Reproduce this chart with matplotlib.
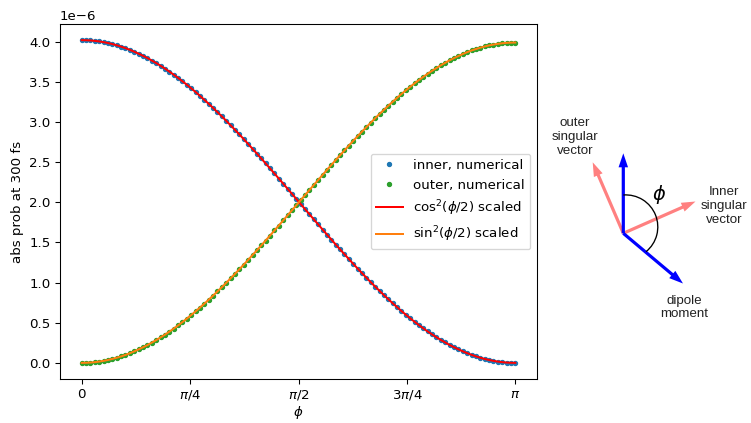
import numpy as np
import matplotlib
matplotlib.use("Agg")
import matplotlib.pyplot as plt
from matplotlib.patches import Arc

# sample angles (rad) and absorption probabilities (units of 1e-6)
phi = np.linspace(0, np.pi, 100)

inner_numerical = [
    4.020, 4.019, 4.016, 4.011, 4.004, 3.995, 3.984, 3.971, 3.956, 3.939,
    3.920, 3.899, 3.876, 3.851, 3.825, 3.797, 3.766, 3.735, 3.701, 3.666,
    3.629, 3.590, 3.550, 3.508, 3.465, 3.420, 3.374, 3.326, 3.277, 3.227,
    3.176, 3.123, 3.070, 3.015, 2.959, 2.903, 2.845, 2.787, 2.727, 2.667,
    2.607, 2.546, 2.484, 2.422, 2.359, 2.296, 2.233, 2.169, 2.106, 2.042,
    1.978, 1.914, 1.851, 1.787, 1.724, 1.661, 1.598, 1.536, 1.474, 1.413,
    1.353, 1.293, 1.233, 1.175, 1.117, 1.061, 1.005, 0.950, 0.897, 0.844,
    0.793, 0.743, 0.694, 0.646, 0.600, 0.555, 0.512, 0.470, 0.430, 0.391,
    0.354, 0.319, 0.285, 0.254, 0.223, 0.195, 0.169, 0.144, 0.121, 0.100,
    0.081, 0.064, 0.049, 0.036, 0.025, 0.016, 0.009, 0.004, 0.001, 0.000,
]

outer_numerical = [
    0.000, 0.001, 0.004, 0.009, 0.016, 0.025, 0.036, 0.049, 0.064, 0.080,
    0.099, 0.120, 0.143, 0.168, 0.194, 0.221, 0.252, 0.283, 0.317, 0.351,
    0.388, 0.427, 0.466, 0.508, 0.551, 0.596, 0.641, 0.689, 0.737, 0.787,
    0.838, 0.890, 0.943, 0.997, 1.053, 1.109, 1.166, 1.224, 1.283, 1.343,
    1.402, 1.463, 1.524, 1.586, 1.649, 1.711, 1.774, 1.837, 1.900, 1.963,
    2.027, 2.090, 2.153, 2.216, 2.279, 2.341, 2.404, 2.465, 2.527, 2.587,
    2.647, 2.707, 2.766, 2.824, 2.881, 2.937, 2.992, 3.047, 3.100, 3.152,
    3.203, 3.252, 3.301, 3.349, 3.394, 3.439, 3.482, 3.523, 3.563, 3.602,
    3.638, 3.673, 3.707, 3.738, 3.769, 3.796, 3.822, 3.847, 3.870, 3.891,
    3.909, 3.926, 3.941, 3.954, 3.965, 3.974, 3.981, 3.986, 3.989, 3.990,
]

# fitted cos^2 / sin^2 curves coincide with the numerical results
cos2_scaled = inner_numerical
sin2_scaled = outer_numerical

xtick_vals = [0, np.pi / 4, np.pi / 2, 3 * np.pi / 4, np.pi]
xtick_labels = ["0", r"$\pi/4$", r"$\pi/2$", r"$3\pi/4$", r"$\pi$"]

DPI = 96
W, H = 751, 423
fig = plt.figure(figsize=(W / DPI, H / DPI), dpi=DPI)

ax = fig.add_axes([60 / W, 44 / H, 477 / W, 355 / H])
scale = 1e-6
ax.plot(phi, np.array(inner_numerical) * scale, ".", color="C0", label="inner, numerical")
ax.plot(phi, np.array(outer_numerical) * scale, ".", color="C2", label="outer, numerical")
ax.plot(phi, np.array(cos2_scaled) * scale, "-", color="red", label=r"cos$^2(\phi/2)$ scaled")
ax.plot(phi, np.array(sin2_scaled) * scale, "-", color="C1", label=r"sin$^2(\phi/2)$ scaled")
ax.set_xticks(xtick_vals)
ax.set_xticklabels(xtick_labels)
ax.set_xlabel(r"$\phi$", labelpad=1.5)
ax.set_ylabel("abs prob at 300 fs")
ax.legend(loc="center right")

# geometry sketch on the right, drawn in pixel coordinates
sk = fig.add_axes([0, 0, 1, 1], zorder=5)
sk.set_xlim(0, W)
sk.set_ylim(H, 0)
sk.axis("off")
sk.patch.set_alpha(0)

origin = (623.3, 233.3)
blue = "#0000ff"
pink = "#ff8080"

def vec(tip, color):
    dx = tip[0] - origin[0]
    dy = tip[1] - origin[1]
    sk.arrow(origin[0], origin[1], dx, dy, width=3.2, head_width=9.5,
             head_length=14, length_includes_head=True, color=color,
             linewidth=0)

vec((592.7, 162.3), pink)
vec((695.5, 201.5), pink)
vec((623.3, 153.3), blue)
vec((683.0, 283.5), blue)

sk.add_patch(Arc((625.8, 226.9), 64, 64, theta1=-94.4, theta2=50.8,
                 color="black", linewidth=1.0))
sk.text(659.3, 194, r"$\phi$", fontsize=14.5, ha="center", va="center")

lab_font = dict(family="Liberation Sans", fontsize=10, ha="center",
                va="center", linespacing=1.2, color="#222222")
sk.text(575, 137, "outer\nsingular\nvector", **lab_font)
sk.text(724.5, 206, "Inner\nsingular\nvector", **lab_font)
sk.text(684, 307.5, "dipole\nmoment", **lab_font)

fig.savefig("out.png", dpi=DPI)
